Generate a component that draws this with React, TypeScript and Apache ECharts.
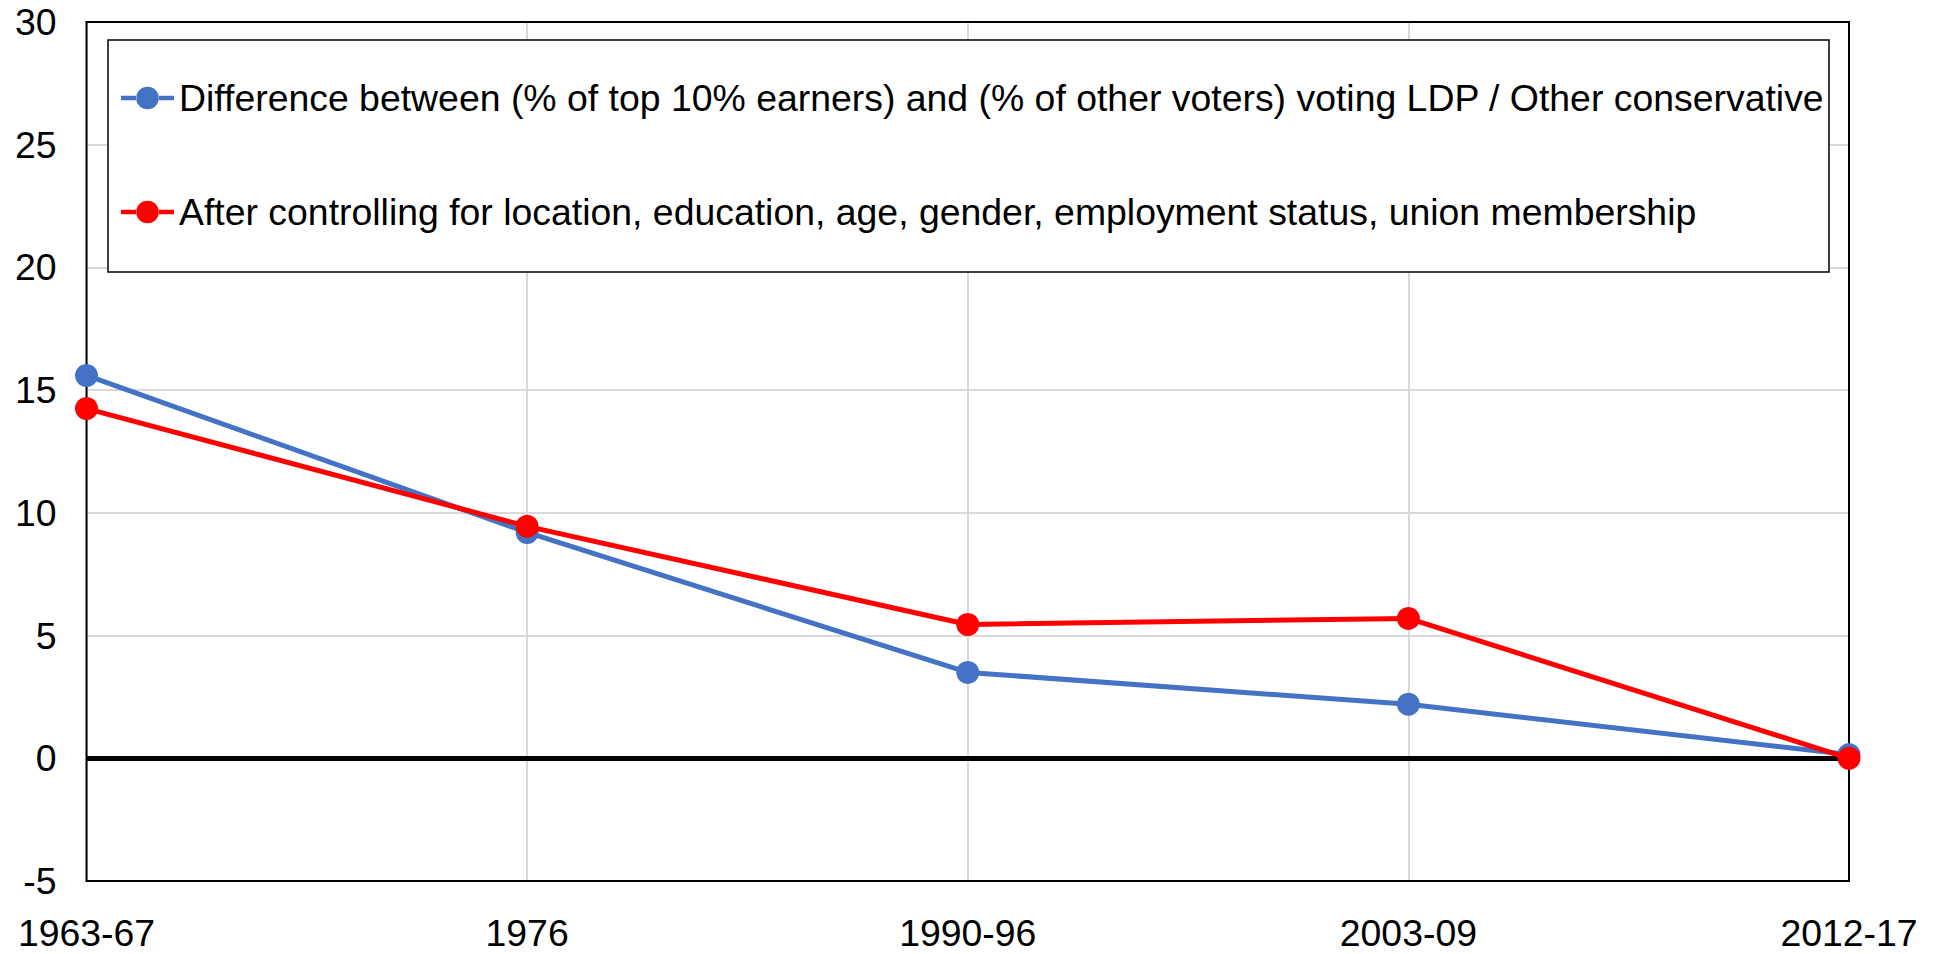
import React, { useEffect, useRef } from "react";
import * as echarts from "echarts";

const categories = ["1963-67", "1976", "1990-96", "2003-09", "2012-17"];
const seriesNames = [
  "Difference between (% of top 10% earners) and (% of other voters) voting LDP / Other conservative",
  "After controlling for location, education, age, gender, employment status, union membership",
];
const rawDiff = [15.6, 9.2, 3.5, 2.2, 0.15];
const controlledDiff = [14.25, 9.45, 5.45, 5.7, 0.0];
const colors = ["#4472C4", "#FF0000"];
const FONT = "Liberation Sans, Arial, sans-serif";
const FS = 37.4;

const LEGEND_ICON =
  "path://M0,9.5L16.5,9.5L16.5,14.5L0,14.5Z M39.5,9.5L56,9.5L56,14.5L39.5,14.5Z M16,12A12,12 0 1,0 40,12A12,12 0 1,0 16,12Z";

export default function App() {
  const ref = useRef<HTMLDivElement>(null);
  useEffect(() => {
    if (!ref.current) return;
    const chart = echarts.init(ref.current, null, { renderer: "svg" });
    chart.setOption({
      animation: false,
      backgroundColor: "#ffffff",
      grid: {
        left: 86.5,
        right: 88,
        top: 22,
        bottom: 73,
        show: false,
      },
      graphic: [
        {
          type: "rect",
          shape: { x: 86.5, y: 22, width: 1937 - 86.5 - 88, height: 954 - 22 - 73 },
          style: { fill: "none", stroke: "#000", lineWidth: 2 },
          z: 1,
          silent: true,
        },
        {
          type: "rect",
          shape: { x: 108, y: 40, width: 1721, height: 232 },
          style: { fill: "#fff", stroke: "#000", lineWidth: 1.5 },
          z: 5,
        },
      ],
      legend: {
        orient: "vertical",
        left: 116,
        top: 72,
        itemWidth: 53,
        itemHeight: 24,
        itemGap: 72,
        z: 10,
        textStyle: { fontFamily: FONT, fontSize: FS, color: "#000", lineHeight: 42 },
        data: seriesNames.map((n, i) => ({
          name: n,
          icon: LEGEND_ICON,
          itemStyle: { color: colors[i] },
        })),
      },
      xAxis: {
        type: "category",
        data: categories,
        boundaryGap: false,
        axisLine: { show: false },
        axisTick: { show: false },
        axisLabel: { fontFamily: FONT, fontSize: FS, color: "#000", margin: 33 },
        splitLine: { show: true, lineStyle: { color: "#d9d9d9", width: 2 } },
      },
      yAxis: {
        type: "value",
        min: -5,
        max: 30,
        interval: 5,
        axisLine: { show: false },
        axisTick: { show: false },
        axisLabel: { fontFamily: FONT, fontSize: FS, color: "#000", margin: 30 },
        splitLine: { show: true, lineStyle: { color: "#d9d9d9", width: 2 } },
      },
      series: [
        {
          name: seriesNames[0],
          type: "line",
          data: rawDiff,
          symbol: "circle",
          symbolSize: 23,
          color: colors[0],
          lineStyle: { width: 5, color: colors[0] },
          itemStyle: { color: colors[0] },
          z: 3,
          markLine: {
            silent: true,
            symbol: "none",
            label: { show: false },
            lineStyle: { color: "#000", width: 5, type: "solid" },
            data: [{ yAxis: 0 }],
            z: 2,
          },
        },
        {
          name: seriesNames[1],
          type: "line",
          data: controlledDiff,
          symbol: "circle",
          symbolSize: 23,
          color: colors[1],
          lineStyle: { width: 5, color: colors[1] },
          itemStyle: { color: colors[1] },
          z: 4,
        },
      ],
    });
    return () => chart.dispose();
  }, []);
  return (
    <div
      ref={ref}
      style={{ position: "absolute", left: 0, top: 0, width: 1937, height: 954 }}
    />
  );
}
